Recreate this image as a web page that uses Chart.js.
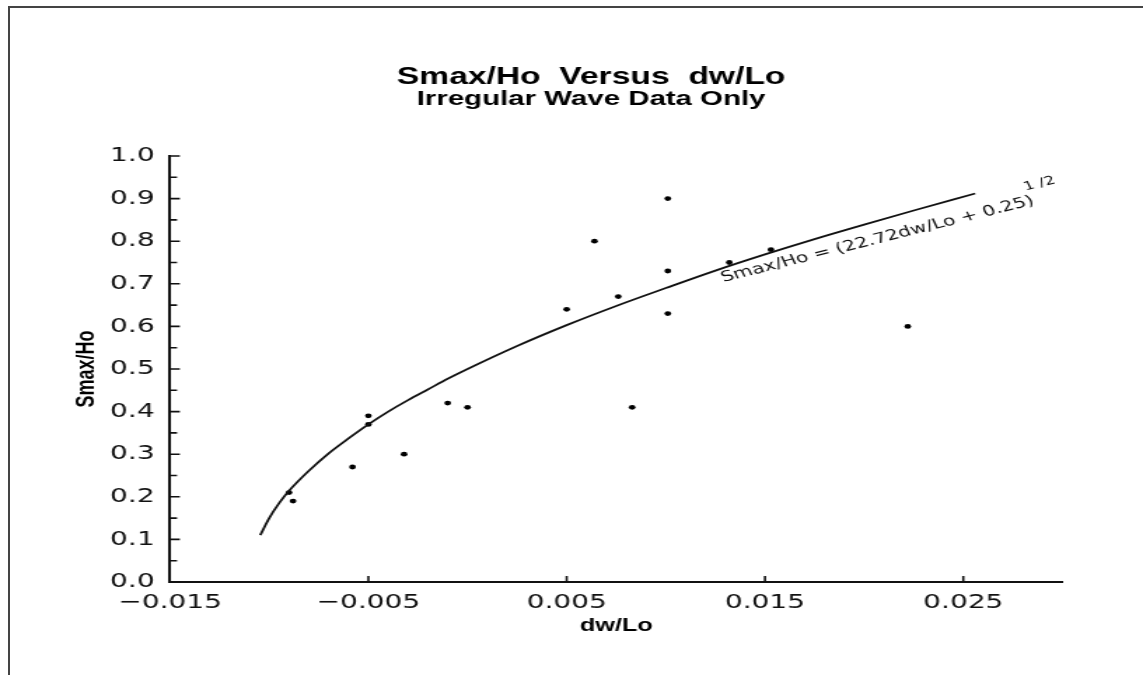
<!DOCTYPE html>
<html>
<head>
<meta charset="utf-8">
<title>Smax/Ho Versus dw/Lo</title>
<script src="https://cdn.jsdelivr.net/npm/chart.js@4"></script>
<style>
  body { margin: 0; background: #fff; }
  #frame { position: relative; width: 1143px; height: 675px; overflow: hidden; background: #fff; }
  #edge { position: absolute; left: 8px; top: 6px; right: 0; bottom: 0; border-left: 2px solid #444; border-top: 2px solid #444; }
  #SmaxChart { display: block; }
</style>
</head>
<body>
<div id="frame">
  <!-- drawn at 816 wide and shown at 1143 so the picture keeps the stretched look of the scan -->
  <canvas id="SmaxChart" width="816" height="675" style="width:1143px;height:675px"></canvas>
  <div id="edge"></div>
</div>
<script>

// fitted curve
var curveX = [-0.01045, -0.0100, -0.0095, -0.0090, -0.0080, -0.0070, -0.0060, -0.0050, -0.0040, -0.0030, -0.0020, -0.0010,
              0.0000, 0.0025, 0.0050, 0.0075, 0.0100, 0.0125, 0.0150, 0.0175, 0.0200, 0.0225, 0.0256];
var curveY = [0.11, 0.15, 0.185, 0.214, 0.261, 0.302, 0.337, 0.37, 0.40, 0.427, 0.452, 0.477,
              0.50, 0.554, 0.603, 0.648, 0.69, 0.731, 0.769, 0.805, 0.839, 0.872, 0.912];

// irregular wave data points
var waveX = [-0.0090, -0.0088, -0.0058, -0.0050, -0.0050, -0.0032, -0.0010, 0.0000, 0.0050,
             0.0064, 0.0076, 0.0083, 0.0101, 0.0101, 0.0101, 0.0132, 0.0153, 0.0222];
var waveY = [0.21, 0.19, 0.27, 0.39, 0.37, 0.30, 0.42, 0.41, 0.64,
             0.80, 0.67, 0.41, 0.90, 0.73, 0.63, 0.75, 0.78, 0.60];

var xTicks = [-0.015, -0.005, 0.005, 0.015, 0.025];
var yTicks = [0.0, 0.1, 0.2, 0.3, 0.4, 0.5, 0.6, 0.7, 0.8, 0.9, 1.0];

var fitText = "Smax/Ho = (22.72dw/Lo + 0.25)";
var fitPower = "1 /2";
var fitLabelAt = { x: 0.0129, y: 0.704 };

function toPoints(xs, ys)
{
  let pts = [];
  for (let i = 0; i < xs.length; i++)
  {
    pts.push({ x: xs[i], y: ys[i] });
  }
  return pts;
}

function xLabel(value)
{
  if (value < 0) return "\u2212" + Math.abs(value).toFixed(3);
  return value.toFixed(3);
}

// inward tick marks and the equation written along the curve
var marksPlugin = {
  id: "marks",
  afterDatasetsDraw: function(chart)
  {
    let ctx = chart.ctx;
    let area = chart.chartArea;
    let xs = chart.scales.x;
    let ys = chart.scales.y;

    ctx.save();
    ctx.strokeStyle = "#111";
    ctx.lineWidth = 1.6;
    ctx.beginPath();
    for (let i = 0; i < yTicks.length; i++)
    {
      let py = ys.getPixelForValue(yTicks[i]);
      ctx.moveTo(area.left, py);
      ctx.lineTo(area.left + 7, py);
      if (i < yTicks.length - 1)
      {
        let my = ys.getPixelForValue((yTicks[i] + yTicks[i + 1]) / 2);
        ctx.moveTo(area.left, my);
        ctx.lineTo(area.left + 5, my);
      }
    }
    for (let i = 1; i < xTicks.length; i++)
    {
      let px = xs.getPixelForValue(xTicks[i]);
      ctx.moveTo(px, area.bottom);
      ctx.lineTo(px, area.bottom - 6);
    }
    ctx.stroke();

    ctx.translate(xs.getPixelForValue(fitLabelAt.x), ys.getPixelForValue(fitLabelAt.y));
    ctx.rotate(-19.3 * Math.PI / 180);
    ctx.fillStyle = "#111";
    ctx.textBaseline = "alphabetic";
    ctx.textAlign = "left";
    ctx.font = "14.5px 'DejaVu Sans'";
    ctx.fillText(fitText, 0, 0);
    ctx.font = "12px 'DejaVu Sans'";
    ctx.fillText(fitPower, 234, -15);
    ctx.restore();
  }
};

var tickFont = { family: "DejaVu Sans", size: 20 };
var titleFont = { family: "Liberation Sans", size: 18, weight: "bold" };

new Chart("SmaxChart", {
  type: "scatter",
  data: {
    datasets: [{
      label: "Fit",
      data: toPoints(curveX, curveY),
      showLine: true,
      borderColor: "#111",
      borderWidth: 1.8,
      pointRadius: 0,
      cubicInterpolationMode: "monotone",
      fill: false
    }, {
      label: "Irregular Wave Data",
      data: toPoints(waveX, waveY),
      backgroundColor: "#000",
      borderColor: "#000",
      borderWidth: 0,
      pointRadius: 2.4
    }]
  },
  options: {
    responsive: false,
    animation: false,
    devicePixelRatio: 1,
    layout: { padding: { left: 28, right: 0, top: 0, bottom: 33 } },
    plugins: {
      legend: { display: false },
      tooltip: { enabled: false },
      title: {
        display: true,
        text: "Smax/Ho  Versus  dw/Lo",
        color: "#000",
        font: { family: "Liberation Sans", size: 24, weight: "bold", lineHeight: 1 },
        padding: { top: 65, bottom: 0 }
      },
      subtitle: {
        display: true,
        text: "Irregular Wave Data Only",
        color: "#000",
        font: { family: "Liberation Sans", size: 21, weight: "bold", lineHeight: 1 },
        padding: { top: 0, bottom: 46 }
      }
    },
    scales: {
      x: {
        type: "linear",
        min: -0.015,
        max: 0.03,
        grid: { drawOnChartArea: false, drawTicks: false },
        border: { color: "#111", width: 2 },
        afterBuildTicks: function(scale) { scale.ticks = xTicks.map(v => ({ value: v })); },
        afterFit: function(scale) { scale.height = 60; scale.paddingLeft = 0; scale.paddingRight = 57.5; },
        ticks: { autoSkip: false, maxRotation: 0, padding: 9, color: "#111", font: tickFont, callback: xLabel },
        title: { display: true, text: "dw/Lo", color: "#000", font: titleFont, padding: { top: 0, bottom: 5 } }
      },
      y: {
        type: "linear",
        min: 0,
        max: 1,
        grid: { drawOnChartArea: false, drawTicks: false },
        border: { color: "#111", width: 2 },
        afterBuildTicks: function(scale) { scale.ticks = yTicks.map(v => ({ value: v })); },
        afterFit: function(scale) { scale.width = 93.4; },
        ticks: { autoSkip: false, padding: 11, color: "#111", font: tickFont, callback: v => v.toFixed(1) },
        title: { display: true, text: "Smax/Ho", color: "#000", font: titleFont, padding: { top: 23.5, bottom: 0 } }
      }
    }
  },
  plugins: [marksPlugin]
});
</script>
</body>
</html>
